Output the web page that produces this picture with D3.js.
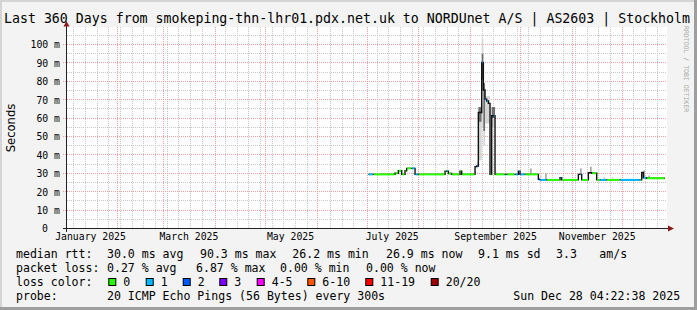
<!DOCTYPE html>
<html>
<head>
<meta charset="utf-8">
<script src="https://cdn.jsdelivr.net/npm/d3@7"></script>
<style>
  body { margin: 0; background: #f3f3f3; }
  svg { display: block; }
  text { font-family: "DejaVu Sans Mono", monospace; fill: #000; }
</style>
</head>
<body>
<div id="chart"></div>
<script>
const width = 697;
const height = 310;
const plot = { left: 67, right: 667, top: 27, bottom: 228.5 };

const title = "Last 360 Days from smokeping-thn-lhr01.pdx.net.uk to NORDUnet A/S | AS2603 | Stockholm";
const endStamp = "2025-12-28 04:22:38";
const spanDays = 360;
const yMax = 109.5;
const yTicks = [0, 10, 20, 30, 40, 50, 60, 70, 80, 90, 100];

// median rtt, one run per step (start date, ms, loss level index; -1 = drawn dark)
const runStart = ["2025-07-02", "2025-07-05", "2025-07-18", "2025-07-20", "2025-07-22", "2025-07-24",
  "2025-07-25", "2025-07-28", "2025-07-30", "2025-08-01", "2025-08-17", "2025-08-18", "2025-08-19",
  "2025-08-21", "2025-08-26", "2025-08-27", "2025-09-04", "2025-09-05", "2025-09-06", "2025-09-08",
  "2025-09-09", "2025-09-10", "2025-09-11", "2025-09-12", "2025-09-13", "2025-09-14", "2025-09-15",
  "2025-09-16", "2025-09-22", "2025-09-23", "2025-09-28", "2025-09-30", "2025-10-01", "2025-10-04",
  "2025-10-12", "2025-10-13", "2025-10-17", "2025-10-25", "2025-10-26", "2025-11-05", "2025-11-06",
  "2025-11-07", "2025-11-11", "2025-11-13", "2025-11-16", "2025-11-18", "2025-11-22", "2025-11-30",
  "2025-12-12", "2025-12-13", "2025-12-14", "2025-12-16"];
const runValue = [29.4, 29.4, 30.0, 31.4, 29.4, 31.4, 32.7, 32.7, 29.4, 29.4, 31.1, 31.1, 29.9,
  29.4, 31.1, 29.4, 33.6, 34.0, 63.0, 90.3, 75.3, 70.3, 69.3, 68.0, 29.4, 61.3, 61.3,
  29.4, 29.4, 29.4, 29.4, 31.2, 29.4, 29.4, 26.7, 26.4, 26.4, 27.6, 26.4, 29.4, 29.4,
  26.4, 30.3, 30.0, 26.4, 26.4, 26.4, 26.4, 26.4, 30.4, 27.6, 27.3];
const runLoss = [1, 0, 0, 0, 0, 0, 0, 1, 1, 0, 0, 1, 0, 0, 0, 0, -1, 2, -1, 1, -1, 2, 1, -1, 0, -1, 1,
  0, 1, 0, 1, 1, 1, 0, 2, 1, 0, 1, 0, -1, 1, 0, -1, 0, 0, 1, 0, 1, 0, -1, 1, 0];
const runEnd = "2025-12-27";

// smoke (spread of the pings)
const smokeFrom = ["2025-09-05", "2025-09-06", "2025-09-06", "2025-09-08", "2025-09-08", "2025-09-09",
  "2025-09-09", "2025-09-10", "2025-09-14", "2025-09-14", "2025-09-16", "2025-10-07", "2025-10-13",
  "2025-10-16", "2025-11-06", "2025-11-12", "2025-11-20", "2025-11-25", "2025-12-14", "2025-12-17"];
const smokeTo = ["2025-09-06", "2025-09-08", "2025-09-08", "2025-09-09", "2025-09-09", "2025-09-10",
  "2025-09-10", "2025-09-13", "2025-09-16", "2025-09-16", "2025-09-17", "2025-10-08", "2025-10-14",
  "2025-10-17", "2025-11-07", "2025-11-13", "2025-11-21", "2025-11-26", "2025-12-15", "2025-12-18"];
const smokeLow = [32.5, 37, 58, 55, 81, 45, 53, 57, 55, 60, 29.4, 29.4, 27.6, 26.4, 29.4, 30.3, 26.8, 26.8, 27.6, 27.3];
const smokeHigh = [36.3, 63, 66, 103.3, 95, 79, 79, 72, 66, 66, 31, 32.6, 29, 30, 32.7, 33.6, 27.8, 27.8, 31.6, 28.8];
const smokeTone = ["light", "light", "dark", "light", "dark", "light", "dark", "light", "light", "dark",
  "light", "mid", "light", "mid", "mid", "mid", "light", "light", "mid", "mid"];

const lossNames = ["0", "1", "2", "3", "4-5", "6-10", "11-19", "20/20"];
const lossColors = ["#26ff00", "#00b8ff", "#0059ff", "#7e00ff", "#ff00ff", "#ff5500", "#ff0000", "#a10000"];

const rttStats = ["30.0 ms avg", "90.3 ms max", "26.2 ms min", "26.9 ms now", "9.1 ms sd", "3.3", "am/s"];
const lossStats = ["0.27 % avg", "6.87 % max", "0.00 % min", "0.00 % now"];
const probeText = "20 ICMP Echo Pings (56 Bytes) every 300s";
const stampText = "Sun Dec 28 04:22:38 2025";

// layout of the legend pieces
const rttX = [107, 200, 292.3, 386, 478, 556, 599.3];
const lossX = [107, 196, 280, 366];
const swatchX = [108.3, 145.7, 182.7, 219.3, 256.7, 307.3, 365.3, 430.7];

const parseDay = d3.utcParse("%Y-%m-%d");
const endTime = d3.utcParse("%Y-%m-%d %H:%M:%S")(endStamp);
const startTime = d3.utcDay.offset(endTime, -spanDays);

const svg = d3.select('#chart')
              .append('svg')
              .attr('width', width)
              .attr('height', height);

// canvas + 3d frame
svg.append('rect').attr('width', width).attr('height', height).attr('fill', '#f3f3f3');
svg.append('path').attr('d', `M1,${height} V1 H${width}`)
   .attr('fill', 'none').attr('stroke', '#d4d4d4').attr('stroke-width', 2);
svg.append('path').attr('d', `M0,${height - 1.5} H${width - 1.5} V0`)
   .attr('fill', 'none').attr('stroke', '#9e9e9e').attr('stroke-width', 3);

svg.append('rect')
   .attr('x', plot.left).attr('y', plot.top)
   .attr('width', plot.right - plot.left).attr('height', plot.bottom - plot.top)
   .attr('fill', '#fff');

const xScale = d3.scaleUtc().domain([startTime, endTime]).range([plot.left, plot.right]);
const yScale = d3.scaleLinear().domain([0, yMax]).range([plot.bottom, plot.top]);

const px = v => Math.round(v) + 0.5;

// grid
const grid = svg.append('g').attr('shape-rendering', 'crispEdges').attr('fill', 'none');
const months = d3.utcMonth.range(startTime, endTime);
const weeks = d3.utcMonday.range(startTime, endTime)
                .filter(w => !months.some(m => Math.abs(xScale(m) - xScale(w)) < 2));

grid.selectAll('.wk').data(weeks).enter().append('line')
    .attr('x1', d => px(xScale(d))).attr('x2', d => px(xScale(d)))
    .attr('y1', plot.top).attr('y2', plot.bottom)
    .attr('stroke', '#c8c8c8').attr('stroke-dasharray', '1,1');

const minorY = d3.range(5, yMax, 10);
grid.selectAll('.my').data(minorY).enter().append('line')
    .attr('x1', plot.left).attr('x2', plot.right)
    .attr('y1', d => px(yScale(d) - 0.5)).attr('y2', d => px(yScale(d) - 0.5))
    .attr('stroke', '#c8c8c8').attr('stroke-dasharray', '1,1');

grid.selectAll('.mo').data(months).enter().append('line')
    .attr('x1', d => px(xScale(d))).attr('x2', d => px(xScale(d)))
    .attr('y1', plot.top).attr('y2', plot.bottom)
    .attr('stroke', '#f0a0a0').attr('stroke-dasharray', '1,1');

grid.selectAll('.my2').data(yTicks.slice(1)).enter().append('line')
    .attr('x1', plot.left - 4).attr('x2', plot.right)
    .attr('y1', d => px(yScale(d) - 0.5)).attr('y2', d => px(yScale(d) - 0.5))
    .attr('stroke', '#f0a0a0').attr('stroke-dasharray', '1,1');

// smoke
const smokeShade = { light: "#d6d6d6", mid: "#a8a8a8", dark: "#6e6e6e" };
const smoke = smokeFrom.map((d, i) => ({
    from: parseDay(d), to: parseDay(smokeTo[i]), lo: smokeLow[i], hi: smokeHigh[i], tone: smokeTone[i]
}));
svg.append('g').selectAll('rect')
   .data(smoke)
   .enter()
   .append('rect')
   .attr('x', d => xScale(d.from))
   .attr('width', d => Math.max(1, xScale(d.to) - xScale(d.from)))
   .attr('y', d => yScale(d.hi))
   .attr('height', d => yScale(d.lo) - yScale(d.hi))
   .attr('fill', d => smokeShade[d.tone]);

// median line: dark steps, coloured by loss on the flats
const runs = runStart.map((d, i) => ({
    start: parseDay(d),
    end: parseDay(i + 1 < runStart.length ? runStart[i + 1] : runEnd),
    value: runValue[i],
    loss: runLoss[i]
}));
const stepPoints = runs.map(r => [r.start, r.value]).concat([[parseDay(runEnd), runValue[runValue.length - 1]]]);

svg.append('path')
   .datum(stepPoints)
   .attr('fill', 'none')
   .attr('stroke', '#111')
   .attr('stroke-width', 1.4)
   .attr('d', d3.line().x(d => xScale(d[0])).y(d => yScale(d[1])).curve(d3.curveStepAfter));

svg.append('g').selectAll('line')
   .data(runs.filter(r => r.loss >= 0))
   .enter()
   .append('line')
   .attr('x1', d => xScale(d.start) + 0.5)
   .attr('x2', d => xScale(d.end) - 0.5)
   .attr('y1', d => yScale(d.value))
   .attr('y2', d => yScale(d.value))
   .attr('stroke', d => lossColors[d.loss])
   .attr('stroke-width', 2);

// axes
const axisColor = '#222';
svg.append('line').attr('x1', plot.left - 4).attr('x2', plot.right + 2)
   .attr('y1', plot.bottom).attr('y2', plot.bottom)
   .attr('stroke', axisColor).attr('shape-rendering', 'crispEdges');
svg.append('line').attr('x1', plot.left - 0.5).attr('x2', plot.left - 0.5)
   .attr('y1', plot.bottom + 3).attr('y2', plot.top - 1)
   .attr('stroke', axisColor).attr('shape-rendering', 'crispEdges');
svg.append('path')
   .attr('d', `M${plot.right + 1},${plot.bottom - 3} L${plot.right + 7},${plot.bottom} L${plot.right + 1},${plot.bottom + 3} Z`)
   .attr('fill', '#8b1a1a');
svg.append('path')
   .attr('d', `M${plot.left - 3.5},${plot.top - 0.5} L${plot.left - 0.5},${plot.top - 6} L${plot.left + 2.5},${plot.top - 0.5} Z`)
   .attr('fill', '#8b1a1a');

const yAxis = d3.axisLeft(yScale)
                .tickValues(yTicks)
                .tickSize(0)
                .tickPadding(0)
                .tickFormat(d => d === 0 ? "0" : d + " m");
const yAxisG = svg.append('g')
   .attr('class', 'yaxis')
   .attr('transform', `translate(60,0)`)
   .call(yAxis);
yAxisG.select('.domain').remove();
yAxisG.selectAll('text')
   .attr('x', d => d === 0 ? -12 : 0)
   .attr('dy', '0.35em')
   .style('font-size', '9.8px')
   .style('font-family', '"DejaVu Sans Mono", monospace');

const labelMonths = d3.utcMonth.range(d3.utcMonth.floor(startTime), endTime)
                      .filter(m => m.getUTCMonth() % 2 === 0)
                      .map(m => d3.utcDay.offset(m, 15));
const xAxis = d3.axisBottom(xScale)
                .tickValues(labelMonths)
                .tickSize(0)
                .tickPadding(0)
                .tickFormat(d3.utcFormat("%B %Y"));
const xAxisG = svg.append('g')
   .attr('class', 'xaxis')
   .attr('transform', `translate(0,240)`)
   .call(xAxis);
xAxisG.select('.domain').remove();
xAxisG.selectAll('text')
   .attr('y', 0).attr('dy', 0)
   .style('font-size', '9.8px')
   .style('font-family', '"DejaVu Sans Mono", monospace');

// title, y label, watermark
svg.append('text')
   .attr('x', 4).attr('y', 23)
   .attr('textLength', 686)
   .attr('lengthAdjust', 'spacingAndGlyphs')
   .style('font-size', '13.2px')
   .text(title);

svg.append('text')
   .attr('transform', 'translate(14.5,128) rotate(-90)')
   .attr('text-anchor', 'middle')
   .style('font-family', '"DejaVu Sans", sans-serif')
   .style('font-size', '11.6px')
   .text("Seconds");

svg.append('text')
   .attr('transform', 'translate(684,26) rotate(90)')
   .style('font-size', '6.5px')
   .style('fill', '#aaaaaa')
   .text("RRDTOOL / TOBI OETIKER");

// legend
const legend = svg.append('g').style('font-size', '11.56px');
const rowY = [258, 272, 286, 300];

legend.append('text').attr('x', 16).attr('y', rowY[0]).text("median rtt:");
legend.selectAll('.rtt').data(rttStats).enter().append('text')
      .attr('x', (d, i) => rttX[i]).attr('y', rowY[0]).text(d => d);

legend.append('text').attr('x', 16).attr('y', rowY[1]).text("packet loss:");
legend.selectAll('.pl').data(lossStats).enter().append('text')
      .attr('x', (d, i) => lossX[i]).attr('y', rowY[1]).text(d => d);

legend.append('text').attr('x', 16).attr('y', rowY[2]).text("loss color:");
legend.selectAll('.sw').data(lossNames).enter().append('rect')
      .attr('x', (d, i) => swatchX[i] + 0.5).attr('y', rowY[2] - 7.5)
      .attr('width', 7).attr('height', 7)
      .attr('fill', (d, i) => lossColors[i])
      .attr('stroke', '#000');
legend.selectAll('.swl').data(lossNames).enter().append('text')
      .attr('x', (d, i) => swatchX[i] + 15).attr('y', rowY[2]).text(d => d);

legend.append('text').attr('x', 16).attr('y', rowY[3]).text("probe:");
legend.append('text').attr('x', 107).attr('y', rowY[3]).text(probeText);
legend.append('text').attr('x', 513.3).attr('y', rowY[3]).text(stampText);
</script>
</body>
</html>
